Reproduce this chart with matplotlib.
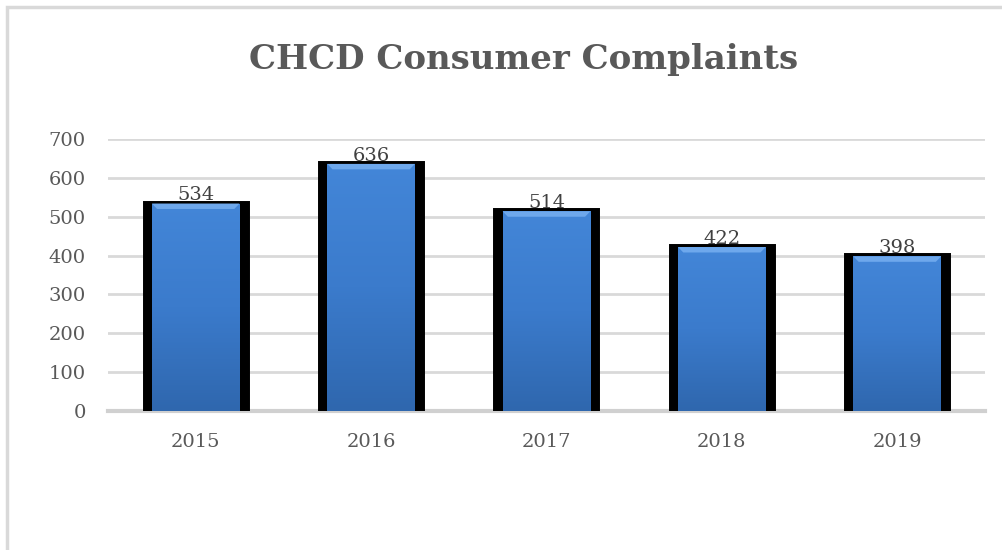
import matplotlib.pyplot as plt
import numpy as np
from matplotlib.patches import Rectangle
from matplotlib.colors import LinearSegmentedColormap

years = ['2015', '2016', '2017', '2018', '2019']
complaints = [534, 636, 514, 422, 398]
yticks = [0, 100, 200, 300, 400, 500, 600, 700]

fig = plt.figure(figsize=(10.03, 5.5), dpi=100)
ax = fig.add_axes([0.1077, 0.2527, 0.8743, 0.4945])

# light border (top and left visible, right/bottom cut off)
fig.patches.append(Rectangle((7 / 1003, -0.1), 1.1, 1.1 - 7 / 550,
                             transform=fig.transFigure, fill=False,
                             edgecolor='#d9d9d9', linewidth=2.5))

x = np.arange(len(years))

# black outline bars, then the blue gradient bars inside them
ax.bar(x, complaints, width=0.57, color='black', edgecolor='black',
       linewidth=5, zorder=3)
inner = ax.bar(x, complaints, width=0.5, color='#3b7bd0', linewidth=0, zorder=4)

cmap = LinearSegmentedColormap.from_list('blue', ['#2f67ae', '#3b7bcc', '#4386d8'])
grad = np.linspace(0, 1, 256).reshape(-1, 1)
for b in inner:
    x0, y0 = b.get_x(), b.get_y()
    w, h = b.get_width(), b.get_height()
    im = ax.imshow(grad, cmap=cmap, extent=[x0, x0 + w, y0, y0 + h],
                   origin='lower', aspect='auto', zorder=5)
    im.set_clip_path(b)
    # lighter bevel at the top
    ax.fill([x0, x0 + w, x0 + w - 0.03, x0 + 0.03],
            [y0 + h, y0 + h, y0 + h - 14, y0 + h - 14],
            color='#6ea8ec', zorder=6, linewidth=0)

for xi, v in zip(x, complaints):
    ax.text(xi, v + 21, str(v), ha='center', va='center', fontsize=14,
            family='DejaVu Serif', color='#404040', zorder=7)

ax.set_xlim(-0.5, len(years) - 0.5)
ax.set_ylim(0, 700)
ax.set_yticks(yticks)
ax.set_xticks(x)
ax.set_xticklabels(years)
ax.grid(axis='y', color='#d9d9d9', linewidth=2, zorder=0)
for s in ['top', 'right', 'left']:
    ax.spines[s].set_visible(False)
ax.spines['bottom'].set_color('#d0d0d0')
ax.spines['bottom'].set_linewidth(3)
ax.tick_params(length=0, labelsize=14, labelcolor='#595959')
ax.tick_params(axis='x', pad=16)
ax.tick_params(axis='y', pad=16)
for lbl in ax.get_xticklabels() + ax.get_yticklabels():
    lbl.set_family('DejaVu Serif')

fig.text(0.522, 0.892, 'CHCD Consumer Complaints', ha='center', va='center',
         fontsize=24.5, fontweight='bold', family='DejaVu Serif', color='#595959')

fig.savefig('out.png', dpi=100)
